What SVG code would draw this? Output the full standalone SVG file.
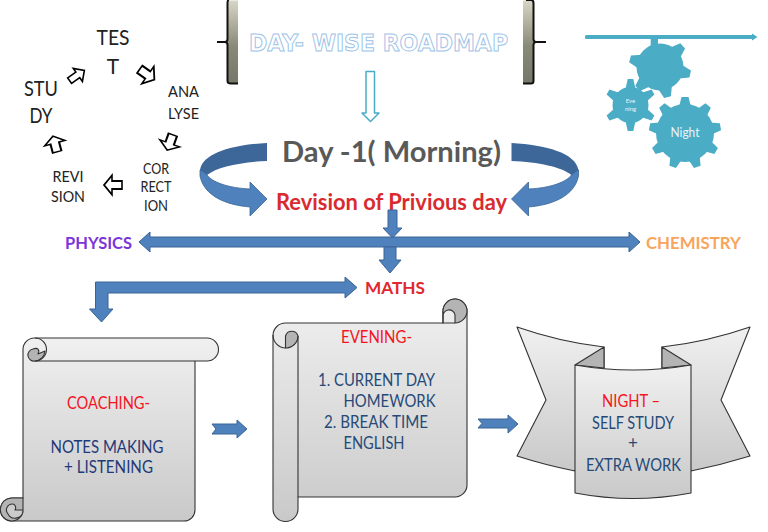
<svg xmlns="http://www.w3.org/2000/svg" xmlns:xlink="http://www.w3.org/1999/xlink" width="768" height="532" viewBox="0 0 768 532">
<style>
text{font-family:Lato,"Liberation Sans",sans-serif}
.m{text-anchor:middle}
.cyc{fill:#222}
.small{fill:#fff;stroke:#000;stroke-width:1.6}
.blue{fill:#4f81bd;stroke:#3a6496;stroke-width:1}
.sc{fill:url(#g);stroke:#333;stroke-width:1.1;stroke-linejoin:round}
.fold{fill:#b4b4b4;stroke:#333;stroke-width:1.1;stroke-linejoin:round}
.ln{fill:none;stroke:#333;stroke-width:1.1}
.red{fill:#f5141e}
.navy{fill:#1f3a78}
.dk{fill:#264a78}
.gear{fill:#4bacc6}
.b{font-weight:700}
</style>
<defs>
<linearGradient id="g" x1="0" y1="0" x2="0" y2="1"><stop offset="0" stop-color="#f0f0f0"/><stop offset="1" stop-color="#c9c9c9"/></linearGradient>
<linearGradient id="brk" x1="0" y1="0" x2="0" y2="1"><stop offset="0" stop-color="#d8d6c6"/><stop offset=".55" stop-color="#8a8a78"/><stop offset="1" stop-color="#77776a"/></linearGradient>
<path id="sa" d="M-9-3.4H1V-8L9 0 1 8V3.4H-9Z"/>
<polygon id="t1" points="-6,-26 -3.500,-36 3.500,-36 6,-26"/>
<polygon id="t2" points="-5,-16 -2.800,-26 2.800,-26 5,-16"/>
<polygon id="t3" points="-7,-21 -3.500,-31 3.500,-31 7,-21"/>
<g id="curve">
<path d="M267 143C232 145 203 153 200 170C203 177 205 179 207 175C217 167 240 162 267 161Z" fill="#3d6699"/>
<path d="M200 170V176C204 196 226 205 250 207V216L267 199 250 182V189C228 188 212 182 207 175C204 172 201 170 200 170Z" fill="#4f81bd" stroke="#3a6496" stroke-width=".8"/>
</g>
</defs>
<rect width="768" height="532" fill="#fff"/>

<g id="cycle">
<g id="test"><text class="m cyc" x="113" y="45" font-size="21" textLength="33" lengthAdjust="spacingAndGlyphs">TES</text><text class="m cyc" x="113" y="74" font-size="21">T</text></g>
<g id="study"><text class="m cyc" x="41" y="96" font-size="21" textLength="34" lengthAdjust="spacingAndGlyphs">STU</text><text class="m cyc" x="41" y="123" font-size="21" textLength="23" lengthAdjust="spacingAndGlyphs">DY</text></g>
<g id="analyse"><text class="m cyc" x="183.500" y="97" font-size="16" textLength="31" lengthAdjust="spacingAndGlyphs">ANA</text><text class="m cyc" x="183.500" y="119" font-size="16" textLength="31" lengthAdjust="spacingAndGlyphs">LYSE</text></g>
<g id="correction"><text class="m cyc" x="156" y="174" font-size="15" textLength="26" lengthAdjust="spacingAndGlyphs">COR</text><text class="m cyc" x="156" y="192" font-size="15" textLength="31" lengthAdjust="spacingAndGlyphs">RECT</text><text class="m cyc" x="156" y="211" font-size="15" textLength="24" lengthAdjust="spacingAndGlyphs">ION</text></g>
<g id="revision"><text class="m cyc" x="68" y="182" font-size="16" textLength="31" lengthAdjust="spacingAndGlyphs">REVI</text><text class="m cyc" x="68" y="202" font-size="16" textLength="34" lengthAdjust="spacingAndGlyphs">SION</text></g>
</g>

<g id="banner">
<path d="M238 .5H229Q227.500 .5 227.500 3V81Q227.500 83.500 230 83.500H238Z" fill="url(#brk)"/>
<path d="M229 0Q227.500 0 227.500 3V39Q227.500 42 225 42H217M225 42Q227.500 42 227.500 45V81Q227.500 83.500 231 83.500H238" fill="none" stroke="#111" stroke-width="2"/>
<path d="M523 .5H532Q533.500 .5 533.500 3V81Q533.500 83.500 531 83.500H523Z" fill="url(#brk)"/>
<path d="M526 0H531Q533.500 0 533.500 3V39Q533.500 42 536 42H546M536 42Q533.500 42 533.500 45V81Q533.500 83.500 531 83.500H523" fill="none" stroke="#111" stroke-width="2"/>
<text id="title" x="378.500" y="50.500" class="m" font-size="23" font-weight="700" fill="#fff" stroke="#9dc3e6" stroke-width="1" textLength="259" lengthAdjust="spacingAndGlyphs" style="font-family:'DejaVu Sans',sans-serif">DAY- WISE ROADMAP</text>
</g>

<g id="gears">
<rect x="585" y="35" width="169" height="4" rx="1.500" class="gear"/>
<path class="gear" d="M752 33.500L757.500 37 752 40.500Z"/>
<g id="gear-top" class="gear" transform="translate(660 67)">
<rect x="-9.300" y="-29" width="7.300" height="10"/>
<circle r="23.500"/>
<use xlink:href="#t3" transform="rotate(47)"/><use xlink:href="#t3" transform="rotate(103)"/><use xlink:href="#t3" transform="rotate(166)"/><use xlink:href="#t3" transform="rotate(226)"/><use xlink:href="#t3" transform="rotate(285)"/>
</g>
<g id="gear-evening" transform="translate(630.500 105)">
<g class="gear"><circle r="18"/>
<use xlink:href="#t2"/><use xlink:href="#t2" transform="rotate(60)"/><use xlink:href="#t2" transform="rotate(120)"/><use xlink:href="#t2" transform="rotate(180)"/><use xlink:href="#t2" transform="rotate(240)"/><use xlink:href="#t2" transform="rotate(300)"/></g>
<text class="m" y="-2" font-size="6" fill="#e8f4f8">Eve</text><text class="m" y="6" font-size="6" fill="#e8f4f8">ning</text>
</g>
<g id="gear-night" transform="translate(685 133)">
<g class="gear"><circle r="29"/>
<use xlink:href="#t1"/><use xlink:href="#t1" transform="rotate(40)"/><use xlink:href="#t1" transform="rotate(80)"/><use xlink:href="#t1" transform="rotate(120)"/><use xlink:href="#t1" transform="rotate(160)"/><use xlink:href="#t1" transform="rotate(200)"/><use xlink:href="#t1" transform="rotate(240)"/><use xlink:href="#t1" transform="rotate(280)"/><use xlink:href="#t1" transform="rotate(320)"/></g>
<text class="m" y="4" font-size="13" fill="#e8f4f8" textLength="29" lengthAdjust="spacingAndGlyphs">Night</text>
</g>
</g>

<g id="morning">
<text class="m b" x="391.500" y="162" font-size="29" fill="#595959" textLength="219" lengthAdjust="spacingAndGlyphs">Day -1( Morning)</text>
</g>
<g id="revision-day"><text class="m b" x="391.500" y="210" font-size="22" fill="#d92b2f" textLength="231" lengthAdjust="spacingAndGlyphs">Revision of Privious day</text></g>
<g id="physics"><text class="m b" x="98.500" y="249" font-size="17" fill="#7b35d9" textLength="67" lengthAdjust="spacingAndGlyphs">PHYSICS</text></g>
<g id="chemistry"><text class="m b" x="693.500" y="249" font-size="17" fill="#f9a45c" textLength="95" lengthAdjust="spacingAndGlyphs">CHEMISTRY</text></g>
<g id="maths"><text class="m b" x="395" y="294" font-size="17" fill="#e0282e" textLength="60" lengthAdjust="spacingAndGlyphs">MATHS</text></g>

<g id="coaching">
<path class="sc" d="M23 350A11.500 11.500 0 0 1 35 338H207A11.500 11.500 0 0 1 207 361H195V510A11 11 0 0 1 184 521H12A11.500 11.500 0 0 1 12 498H23Z"/>
<path class="ln" d="M35 361H195"/>
<path class="fold" d="M35 361A6 6 0 0 1 33 349C38 347 40 350 38 354L45 351A11 11 0 0 1 35 361Z"/>
<path class="ln" d="M35 338A11.500 11.500 0 0 1 35 361"/>
<path class="fold" d="M12 498H23V510H15A4 4 0 0 0 13 504A6 6 0 0 0 8 514A8 8 0 0 0 23 510V512A11.500 11.500 0 1 1 12 498Z"/>
<text class="m red" x="108.500" y="409" font-size="17" textLength="83" lengthAdjust="spacingAndGlyphs">COACHING-</text>
<text class="m navy" x="107" y="453" font-size="17" textLength="113" lengthAdjust="spacingAndGlyphs">NOTES MAKING</text>
<text class="m navy" x="108.500" y="473" font-size="17" textLength="89" lengthAdjust="spacingAndGlyphs">+ LISTENING</text>
</g>

<g id="evening">
<path class="sc" d="M273 335A12.500 12.500 0 0 1 285.500 323H443V311A12 12 0 0 1 467 311V485A12 12 0 0 1 455 497H298V509A12.500 12.500 0 0 1 273 509Z"/>
<path class="fold" d="M285.500 348A12.500 12 0 0 0 298 336A6.500 6.500 0 0 0 285.500 336Z"/>
<path class="ln" d="M273 335A12.500 13 0 0 0 285.500 348M298 336V497"/>
<path class="fold" d="M443 317V311A12 12 0 0 1 467 311A12 12 0 0 1 455 323V315A5.500 5.500 0 0 0 443 317Z"/>
<path class="ln" d="M443 317V323H455"/>
<text class="m red" x="376.500" y="343" font-size="17" textLength="71" lengthAdjust="spacingAndGlyphs">EVENING-</text>
<text class="dk" x="318" y="386" font-size="17" textLength="117" lengthAdjust="spacingAndGlyphs">1. CURRENT DAY</text>
<text class="dk" x="343.500" y="407" font-size="17" textLength="92" lengthAdjust="spacingAndGlyphs">HOMEWORK</text>
<text class="dk" x="324" y="428" font-size="17" textLength="104" lengthAdjust="spacingAndGlyphs">2. BREAK TIME</text>
<text class="dk" x="343.500" y="449" font-size="17" textLength="61" lengthAdjust="spacingAndGlyphs">ENGLISH</text>
</g>

<g id="night">
<path class="sc" d="M517 327Q560 342 604 347V368L575 471Q545 465 517 456L546 400Z"/>
<path class="sc" d="M750 327Q707 342 662 347V368L691 471Q721 465 750 456L721 400Z"/>
<path class="fold" d="M575 365L604 347V368ZM691 365L662 347V368Z"/>
<path class="sc" d="M575 365Q633 375 691 365V493Q633 504 575 493Z"/>
<text class="m red" x="631" y="407" font-size="17" textLength="58" lengthAdjust="spacingAndGlyphs">NIGHT –</text>
<text class="m dk" x="633" y="429" font-size="17" textLength="82" lengthAdjust="spacingAndGlyphs">SELF STUDY</text>
<text class="m dk" x="633" y="449" font-size="17">+</text>
<text class="m dk" x="633.500" y="471" font-size="17" textLength="95" lengthAdjust="spacingAndGlyphs">EXTRA WORK</text>
</g>

<g id="connectors">
<use xlink:href="#sa" class="small" transform="translate(77 75.500) rotate(-35)"/>
<use xlink:href="#sa" class="small" transform="translate(147 74.500) rotate(35) scale(1 1.300)"/>
<use xlink:href="#sa" class="small" transform="translate(170 142.500) rotate(110) scale(.9 1.300)"/>
<use xlink:href="#sa" class="small" transform="translate(113 185) rotate(180) scale(1 1.200)"/>
<use xlink:href="#sa" class="small" transform="translate(55 144) rotate(-105) scale(.9 1.300)"/>
<path d="M366 71.500H374.500V113H379L370.500 121.500 362 113H366Z" fill="#fff" stroke="#4bacc6" stroke-width="1.500" stroke-linejoin="round"/>
<use xlink:href="#curve"/>
<use xlink:href="#curve" transform="matrix(-1 0 0 1 778.500 0)"/>
<path class="blue" d="M388 210H397V228H402L392.500 238 383 228H388Z"/>
<path class="blue" d="M150 237H629V232L640 242 629 252V247H150V252L139 242 150 232Z"/>
<path class="blue" d="M384 247H396V260H401L390 273 379 260H384Z"/>
<path class="blue" d="M95.500 282H345V277L357 287.500 345 298V293H108V309H113L101.500 322 89.500 309H95.500Z"/>
<path class="blue" d="M212 424H237V420L247 429 237 438V434H212L216 429Z"/>
<path class="blue" d="M478 419H508V415L518 424 508 433V428H478L482 423.500Z"/>
</g>
</svg>
